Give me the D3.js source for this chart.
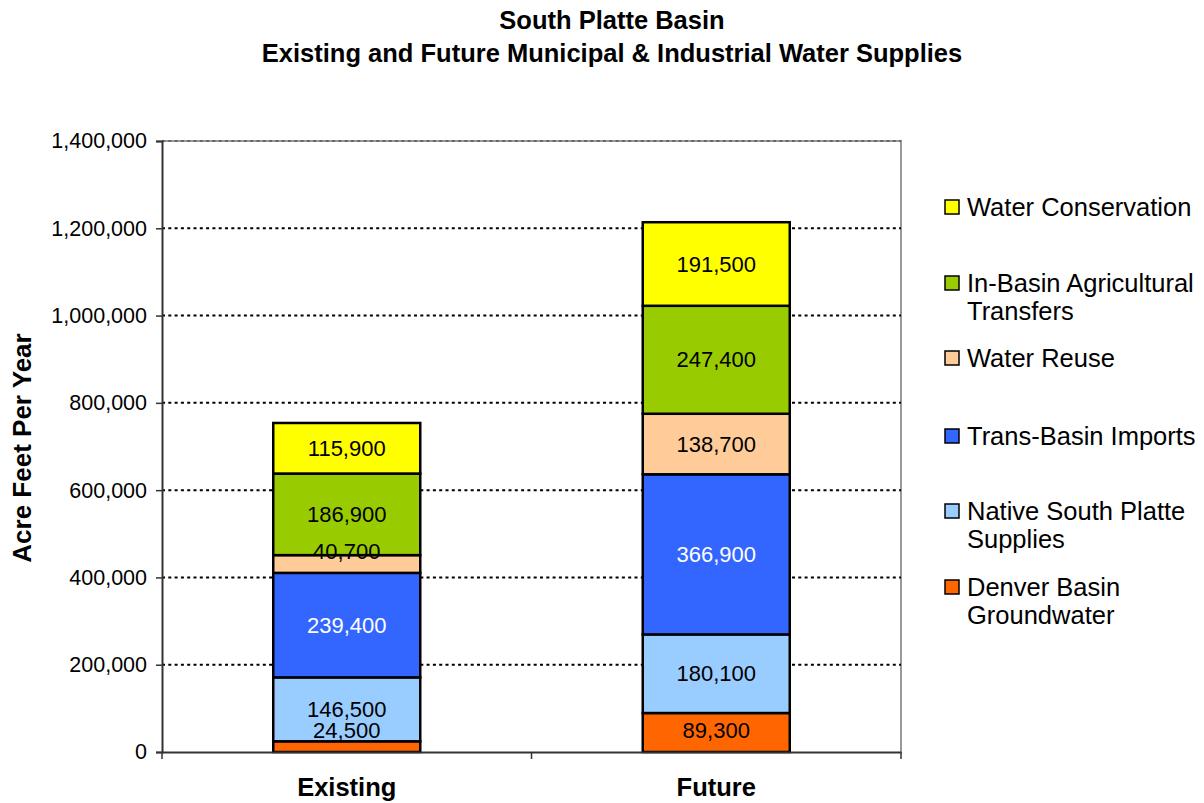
<!DOCTYPE html>
<html><head><meta charset="utf-8">
<script src="https://cdn.jsdelivr.net/npm/d3@7"></script>
<style>body{margin:0;background:#fff}svg{display:block;font-family:"Liberation Sans",Arial,sans-serif}</style>
</head><body><svg id="c" width="1204" height="803"></svg>
<script>
const categories = ["Existing", "Future"];
const seriesNames = ["Denver Basin Groundwater", "Native South Platte Supplies", "Trans-Basin Imports", "Water Reuse", "In-Basin Agricultural Transfers", "Water Conservation"];
const legendLines = [["Denver Basin", "Groundwater"], ["Native South Platte", "Supplies"], ["Trans-Basin Imports"], ["Water Reuse"], ["In-Basin Agricultural", "Transfers"], ["Water Conservation"]];
const existingValues = [24500, 146500, 239400, 40700, 186900, 115900];
const futureValues = [89300, 180100, 366900, 138700, 247400, 191500];
const seriesColors = ["#FF6600", "#99CCFF", "#3366FF", "#FFCC99", "#99CC00", "#FFFF00"];
const labelColors = ["#000", "#000", "#fff", "#000", "#000", "#000"];
const yTicks = [0, 200000, 400000, 600000, 800000, 1000000, 1200000, 1400000];
const titleLines = ["South Platte Basin", "Existing and Future Municipal & Industrial Water Supplies"];
const yTitle = "Acre Feet Per Year";

const svg = d3.select("#c");
const L = 162, R = 901, T = 141, B = 752;
const x = d3.scaleBand().domain(categories).range([L, R]).paddingInner(0).paddingOuter(0);
const y = d3.scaleLinear().domain([0, 1400000]).range([B, T]);
const barW = 147;

// title
svg.append("g").selectAll("text").data(titleLines).join("text")
  .attr("x", 612).attr("y", (d, i) => 29 + i * 33).attr("text-anchor", "middle")
  .attr("font-size", 25.5).attr("font-weight", "bold").text(d => d);

// plot border (top/right gray)
svg.append("path").attr("d", `M${L},${T}H${R}V${B}`).attr("fill", "none").attr("stroke", "#999").attr("stroke-width", 2);

// gridlines
svg.append("g").selectAll("line").data(yTicks.filter(d => d > 0)).join("line")
  .attr("x1", L).attr("x2", R).attr("y1", d => y(d)).attr("y2", d => y(d))
  .attr("stroke", d => d === 1400000 ? "#666" : "#000").attr("stroke-width", 2).attr("stroke-dasharray", "3,3.3");

// stacks
const table = categories.map((c, i) => {
  const o = { cat: c };
  seriesNames.forEach((s, j) => o[s] = (i === 0 ? existingValues : futureValues)[j]);
  return o;
});
const stacked = d3.stack().keys(seriesNames)(table);

const gBars = svg.append("g");
stacked.forEach((layer, j) => {
  gBars.selectAll(null).data(layer).join("rect")
    .attr("x", d => x(d.data.cat) + x.bandwidth() / 2 - barW / 2)
    .attr("width", barW)
    .attr("y", d => y(d[1])).attr("height", d => y(d[0]) - y(d[1]))
    .attr("fill", seriesColors[j]).attr("stroke", "#000").attr("stroke-width", 2.5);
});
stacked.forEach((layer, j) => {
  gBars.selectAll(null).data(layer).join("text")
    .attr("x", d => x(d.data.cat) + x.bandwidth() / 2)
    .attr("y", d => Math.min((y(d[0]) + y(d[1])) / 2, y(d[0]) - 22))
    .attr("dy", "0.35em").attr("text-anchor", "middle").attr("font-size", 22)
    .attr("fill", labelColors[j]).text(d => d3.format(",")(d[1] - d[0]));
});

// y axis
const yAxis = svg.append("g").attr("transform", `translate(${L},0)`)
  .call(d3.axisLeft(y).tickValues(yTicks).tickFormat(d3.format(",")).tickSize(6).tickPadding(9));
yAxis.select(".domain").attr("stroke", "#333").attr("stroke-width", 2);
yAxis.selectAll(".tick line").attr("stroke", "#333").attr("stroke-width", 1.5);
yAxis.selectAll("text").attr("font-size", 21.5).attr("fill", "#000").attr("font-family", "Liberation Sans, Arial, sans-serif");

// x axis
const xAxis = svg.append("g").attr("transform", `translate(0,${B})`)
  .call(d3.axisBottom(x).tickSize(0).tickPadding(26));
xAxis.select(".domain").attr("stroke", "#333").attr("stroke-width", 2);
xAxis.selectAll("text").attr("font-size", 25.5).attr("font-weight", "bold").attr("fill", "#000").attr("font-family", "Liberation Sans, Arial, sans-serif");
xAxis.selectAll(null).data([L, (L + R) / 2, R]).join("line")
  .attr("x1", d => d).attr("x2", d => d).attr("y1", 0).attr("y2", 7).attr("stroke", "#333").attr("stroke-width", 1.5);

// y title
svg.append("text").attr("transform", "translate(31,448) rotate(-90)").attr("text-anchor", "middle")
  .attr("font-size", 26).attr("font-weight", "bold").text(yTitle);

// legend (top to bottom: reversed series)
const legendTops = [207, 283, 358, 436, 511, 587];
const order = d3.range(seriesNames.length).reverse();
const lg = svg.append("g");
order.forEach((j, k) => {
  const ty = legendTops[k];
  lg.append("rect").attr("x", 945).attr("y", ty - 7).attr("width", 14).attr("height", 14)
    .attr("fill", seriesColors[j]).attr("stroke", "#000").attr("stroke-width", 1.5);
  lg.append("text").attr("x", 967).attr("y", ty).attr("font-size", 25.5)
    .selectAll("tspan").data(legendLines[j]).join("tspan")
    .attr("x", 967).attr("dy", (d, i) => i === 0 ? "0.35em" : 28).text(d => d);
});
</script></body></html>
